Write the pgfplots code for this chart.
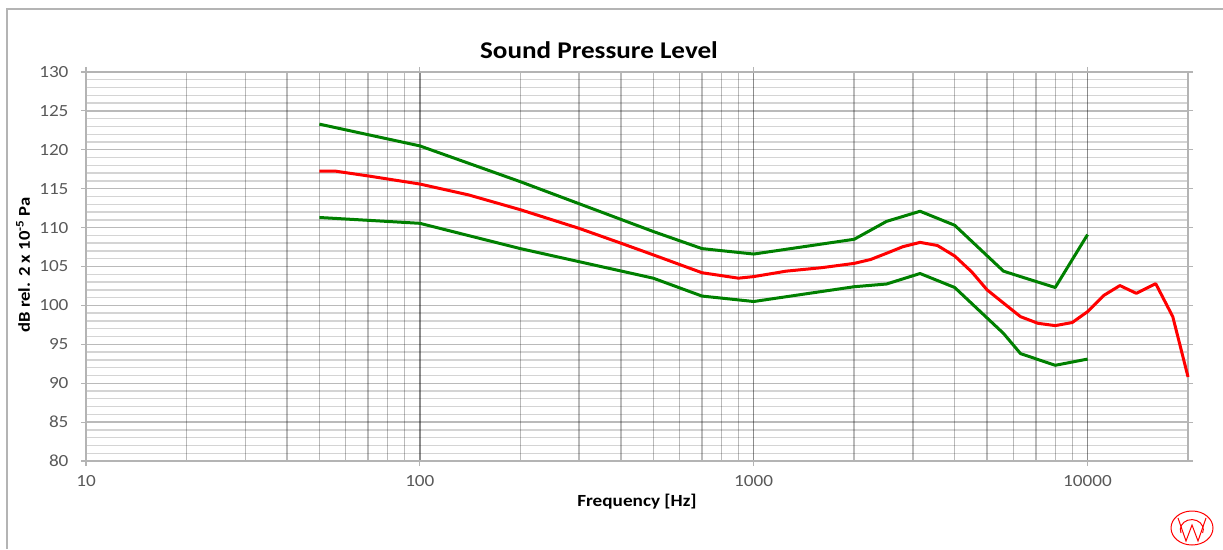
\documentclass[border=0pt]{standalone}
\usepackage{pgfplots}
\pgfplotsset{compat=1.18}
\usepackage{fontspec}
\setmainfont[FakeStretch=1.13]{Carlito}
\definecolor{gridmid}{RGB}{180,180,180}
\definecolor{ticktext}{RGB}{89,89,89}
\definecolor{curvegreen}{RGB}{0,128,0}
\definecolor{curvered}{RGB}{255,0,0}

\begin{document}
\begin{tikzpicture}[x=1pt,y=1pt]
\useasboundingbox (-86,-88) rectangle (1137,461);
\begin{axis}[
    at={(0pt,0pt)}, anchor=south west,
    scale only axis,
    width=1102pt, height=389pt,
    xmode=log, log basis x=10,
    xmin=10, xmax=20000,
    ymin=80, ymax=130,
    xtick={10,100,1000,10000},
    xticklabels={10,100,1000,10000},
    minor xtick={20,30,40,50,60,70,80,90,200,300,400,500,600,700,800,900,
                 2000,3000,4000,5000,6000,7000,8000,9000},
    ytick={80,85,...,130},
    minor y tick num=4,
    grid=both,
    major x grid style={black, opacity=0.45, line width=1.4pt},
    minor x grid style={black, opacity=0.27, line width=1.4pt},
    major y grid style={black, opacity=0.27, line width=1.4pt},
    minor y grid style={black, opacity=0.17, line width=1.4pt},
    axis line style={gridmid, line width=1.4pt},
    tick align=outside,
    major tick length=5pt,
    minor tick length=0pt,
    tick style={gridmid, line width=1.2pt},
    xticklabel style={font=\fontsize{17}{20}\selectfont, text=ticktext, yshift=-6pt},
    yticklabel style={font=\fontsize{17}{20}\selectfont, text=ticktext, xshift=-9pt},
    /pgf/number format/assume math mode=true,
    clip=false,
]
\addplot[curvegreen, line width=3pt, line join=round] coordinates {
    (50,123.3) (100,120.5) (200,115.9) (500,109.5) (700,107.3) (1000,106.6)
    (2000,108.5) (2500,110.8) (3150,112.1) (4000,110.3) (5600,104.4)
    (6300,103.7) (8000,102.3) (10000,109.1)
};
\addplot[curvered, line width=3pt, line join=round] coordinates {
    (50,117.25) (56,117.25) (71,116.6) (100,115.6) (140,114.2) (200,112.3)
    (300,109.9) (400,108.0) (500,106.5) (700,104.2) (900,103.5) (1000,103.7)
    (1250,104.4) (1600,104.85) (2000,105.4) (2240,105.9) (2500,106.7)
    (2800,107.55) (3150,108.1) (3550,107.7) (4000,106.35) (4500,104.3)
    (5000,102.0) (5600,100.3) (6300,98.55) (7100,97.7) (8000,97.4)
    (9000,97.8) (10000,99.2) (11200,101.3) (12500,102.55) (14000,101.55)
    (16000,102.8) (18000,98.55) (20000,90.8)
};
\addplot[curvegreen, line width=3pt, line join=round] coordinates {
    (50,111.3) (100,110.55) (200,107.3) (500,103.5) (700,101.2) (1000,100.5)
    (2000,102.4) (2500,102.75) (3150,104.1) (4000,102.3) (5600,96.4)
    (6300,93.8) (8000,92.3) (10000,93.1)
};
\end{axis}
% chart frame
\draw[gridmid, line width=1.5pt] (-79,-88) -- (-79,452) -- (1137,452);
% titles
\node at (513,411) {\fontsize{24}{28}\selectfont\bfseries Sound Pressure Level};
\node at (551,-41) {\fontsize{17}{20}\selectfont\bfseries Frequency [Hz]};
\node[rotate=90] at (-63,196) {\fontsize{16.5}{19}\selectfont\bfseries dB rel. 2 x 10\textsuperscript{-5} Pa};
% logo
\begin{scope}[curvered, line width=1pt]
\draw (1106,-67) ellipse (21 and 17);
\draw (1092,-57) -- (1100,-80) -- (1106,-64) -- (1112,-80) -- (1120,-57);
\draw (1095,-72) arc (200:-20:11.5 and 10);
\end{scope}
\end{tikzpicture}
\end{document}
